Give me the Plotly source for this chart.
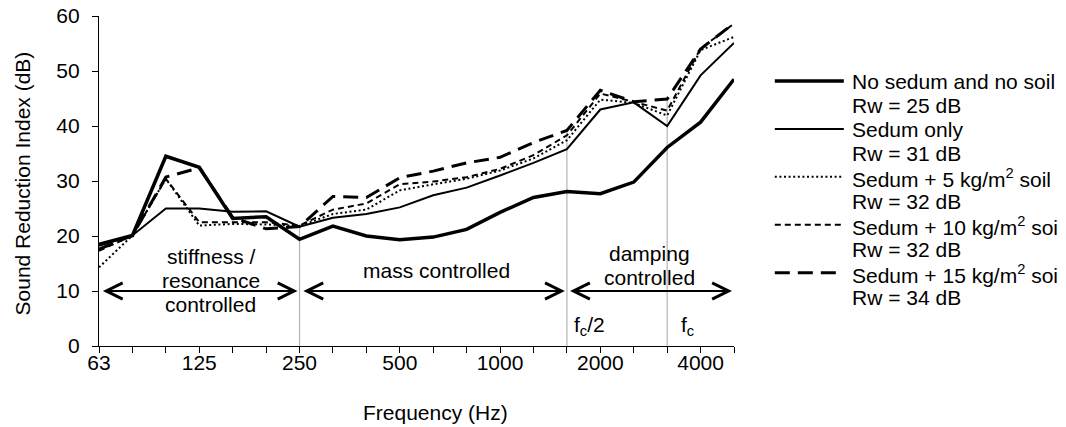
import plotly.graph_objects as go

# ---- data ----
FREQS = ["63", "80", "100", "125", "160", "200", "250", "315", "400", "500",
         "630", "800", "1000", "1250", "1600", "2000", "2500", "3150", "4000", "5000"]
TICK_LABELS = ["63", "", "", "125", "", "", "250", "", "", "500",
               "", "", "1000", "", "", "2000", "", "", "4000", ""]

NO_SEDUM = [18.5, 20.1, 34.5, 32.5, 23.2, 23.5, 19.4, 21.8, 20.0, 19.3,
            19.8, 21.2, 24.3, 27.0, 28.1, 27.7, 29.8, 36.1, 40.7, 48.5]
SEDUM_ONLY = [18.2, 20.1, 25.0, 25.0, 24.4, 24.5, 21.7, 23.3, 24.0, 25.2,
              27.4, 28.8, 31.0, 33.3, 35.8, 43.0, 44.3, 40.0, 49.2, 55.1]
SEDUM_5 = [14.3, 20.1, 30.4, 21.9, 22.2, 22.1, 21.8, 24.0, 24.8, 28.3,
           29.4, 30.4, 31.9, 34.1, 37.4, 44.8, 44.2, 41.9, 53.8, 56.2]
SEDUM_10 = [17.3, 20.1, 30.4, 22.5, 22.5, 22.5, 21.9, 24.8, 25.9, 29.4,
            29.9, 30.7, 32.2, 34.7, 38.3, 45.9, 44.4, 42.8, 54.1, 58.6]
SEDUM_15 = [17.6, 20.1, 30.7, 32.4, 23.4, 21.3, 21.7, 27.2, 27.0, 30.6,
            31.8, 33.3, 34.3, 37.0, 39.2, 46.5, 44.4, 44.9, 54.0, 58.7]

SERIES_NAMES = ["No sedum and no soil", "Sedum only", "Sedum + 5 kg/m<sup>2</sup> soil",
                "Sedum + 10 kg/m<sup>2</sup> soil", "Sedum + 15 kg/m<sup>2</sup> soil"]
RW_LABELS = ["Rw = 25 dB", "Rw = 31 dB", "Rw = 32 dB", "Rw = 32 dB", "Rw = 34 dB"]
X_TITLE = "Frequency (Hz)"
Y_TITLE = "Sound Reduction Index (dB)"

MARKER_IDX = [6, 14, 17]  # 250 Hz, 1600 Hz (fc/2), 3150 Hz (fc)

FONT = "Liberation Sans, Arial, sans-serif"
FS = 21

# ---- layout geometry (screen pixels; page body has an 8px margin) ----
OFF = 8
W, H = 1066, 427
SL, SR, ST, SB = 99.3, 734.2, 15.7, 345.7          # plot area on screen
L, R, T, B = SL - OFF, SR - OFF, ST - OFF, SB - OFF  # in figure coords


def px(xs):
    """screen x -> paper"""
    return (xs - SL) / (SR - SL)


def py(ys):
    """screen y -> paper"""
    return (SB - ys) / (SB - ST)


series = [NO_SEDUM, SEDUM_ONLY, SEDUM_5, SEDUM_10, SEDUM_15]
styles = [
    dict(width=3.5, dash="solid"),
    dict(width=2, dash="solid"),
    dict(width=2, dash="2px,2.6px"),
    dict(width=2, dash="6px,4px"),
    dict(width=3, dash="15px,8px"),
]

fig = go.Figure()
for vals, name, st in zip(series, SERIES_NAMES, styles):
    fig.add_trace(go.Scatter(
        x=FREQS, y=vals, mode="lines", name=name,
        line=dict(color="black", width=st["width"], dash=st["dash"]),
        showlegend=False, hoverinfo="skip"))

shapes = []
for idx in MARKER_IDX:
    top = max(s[idx] for s in series)
    shapes.append(dict(type="line", xref="x", yref="y", x0=idx, x1=idx, y0=0, y1=top,
                       line=dict(color="#b3b3b3", width=1.2), layer="below"))

# manual legend
leg_x0, leg_x1, leg_tx = 775, 844, 850
row0, drow = 81.7, 23.96
for k, st in enumerate(styles):
    yl = row0 + 2 * k * drow - 1
    shapes.append(dict(type="line", xref="paper", yref="paper",
                       x0=px(leg_x0), x1=px(leg_x1), y0=py(yl), y1=py(yl),
                       line=dict(color="black", width=st["width"], dash=st["dash"])))

annotations = []
for k in range(5):
    for j, txt in enumerate([SERIES_NAMES[k], RW_LABELS[k]]):
        yc = row0 + (2 * k + j) * drow
        annotations.append(dict(xref="paper", yref="paper", x=px(leg_tx), y=py(yc),
                                xanchor="left", yanchor="middle", text=txt, showarrow=False,
                                font=dict(family=FONT, size=FS, color="black")))

# double-headed arrows at 10 dB
ARROWS = [(0.07, 5.94), (6.07, 13.94), (14.05, 18.94)]
for a0, a1 in ARROWS:
    annotations.append(dict(xref="x", yref="y", axref="x", ayref="y",
                            x=a1, y=10, ax=a0, ay=10, text="", showarrow=True,
                            arrowhead=5, startarrowhead=5, arrowside="end+start",
                            arrowsize=1.6, startarrowsize=1.6, arrowwidth=2,
                            arrowcolor="black"))

REGION_TEXT = [
    (3.35, 16.2, "stiffness /"), (3.35, 11.9, "resonance"), (3.35, 7.6, "controlled"),
    (10.09, 13.8, "mass controlled"),
    (16.48, 16.85, "damping"), (16.48, 12.5, "controlled"),
]
for xi, yv, txt in REGION_TEXT:
    annotations.append(dict(xref="x", yref="y", x=xi, y=yv, text=txt, showarrow=False,
                            xanchor="center", yanchor="middle",
                            font=dict(family=FONT, size=FS, color="black")))

annotations.append(dict(xref="x", yref="y", x=14, y=3.6, xshift=5, text="f<sub>c</sub>/2",
                        showarrow=False, xanchor="left", yanchor="middle",
                        font=dict(family=FONT, size=FS, color="black")))
annotations.append(dict(xref="x", yref="y", x=17, y=3.6, xshift=12, text="f<sub>c</sub>",
                        showarrow=False, xanchor="left", yanchor="middle",
                        font=dict(family=FONT, size=FS, color="black")))

# axis titles
annotations.append(dict(xref="paper", yref="paper", x=px(435.5), y=py(412), text=X_TITLE,
                        showarrow=False, xanchor="center", yanchor="middle",
                        font=dict(family=FONT, size=FS, color="black")))
annotations.append(dict(xref="paper", yref="paper", x=px(23), y=py(183.5), text=Y_TITLE,
                        showarrow=False, xanchor="center", yanchor="middle", textangle=-90,
                        font=dict(family=FONT, size=FS, color="black")))

fig.update_layout(
    width=W, height=H,
    margin=dict(l=L, r=W - R, t=T, b=H - B, pad=0, autoexpand=False),
    paper_bgcolor="white", plot_bgcolor="white",
    font=dict(family=FONT, size=FS, color="black"),
    shapes=shapes, annotations=annotations,
    showlegend=False,
)
fig.update_xaxes(
    type="category", range=[0, 19], automargin=False,
    tickmode="array", tickvals=FREQS, ticktext=TICK_LABELS,
    ticks="outside", ticklen=6, tickwidth=1.3, tickcolor="black",
    showline=True, linecolor="black", linewidth=1.3,
    showgrid=False, zeroline=False, ticklabelstandoff=-8,
    ticklabeloverflow="allow",
    tickfont=dict(family=FONT, size=FS, color="black"),
)
fig.update_yaxes(
    range=[0, 60], tickmode="linear", tick0=0, dtick=10, automargin=False,
    ticks="outside", ticklen=6, tickwidth=1.3, tickcolor="black",
    showline=True, linecolor="black", linewidth=1.3,
    showgrid=False, zeroline=False, ticklabelstandoff=8,
    ticklabeloverflow="allow",
    tickfont=dict(family=FONT, size=FS, color="black"),
)

fig.write_html("out.html")
